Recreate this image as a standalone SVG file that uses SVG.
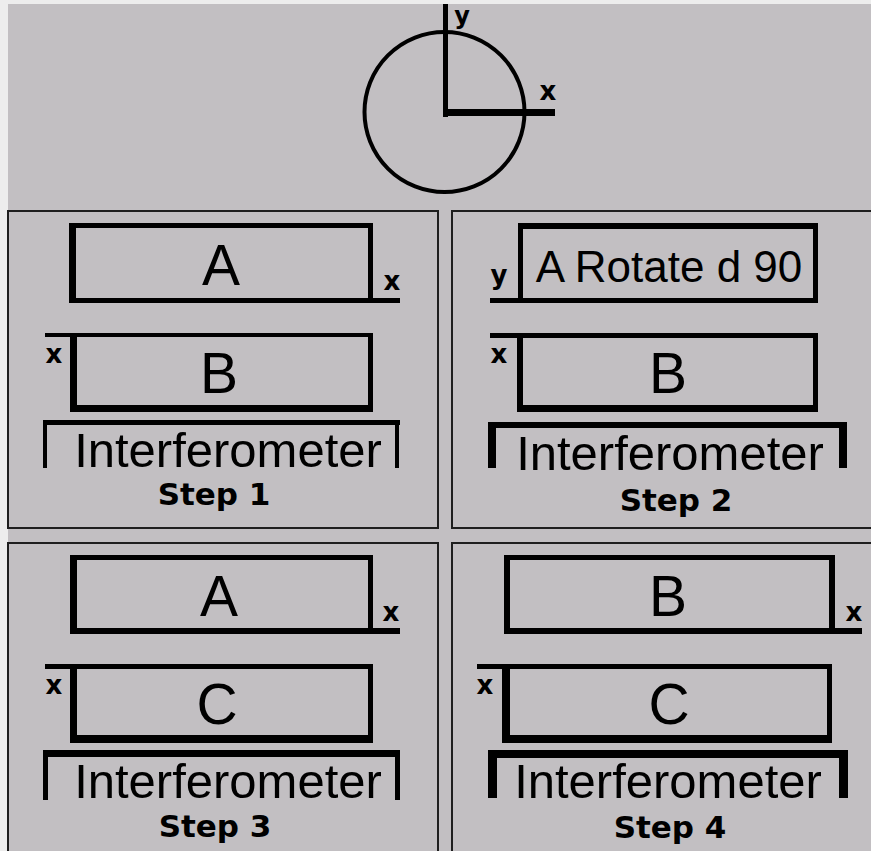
<svg xmlns="http://www.w3.org/2000/svg" width="871" height="851" viewBox="0 0 871 851">
<style>
.bg{fill:#c2bfc2}
.panel{fill:none;stroke:#1e1e1e;stroke-width:2}
.k{fill:#000}
.big{font-family:"Liberation Sans",Arial,sans-serif;font-size:57px;fill:#000;text-anchor:middle}
.rot{font-family:"Liberation Sans",Arial,sans-serif;font-size:44px;fill:#000;text-anchor:middle}
.inf{font-family:"Liberation Sans",Arial,sans-serif;font-size:49px;fill:#000;text-anchor:middle}
.step{font-family:"DejaVu Sans",sans-serif;font-weight:bold;font-size:31px;fill:#000;text-anchor:middle}
.ax{font-family:"DejaVu Sans",sans-serif;font-weight:bold;font-size:26px;fill:#000;text-anchor:middle}
</style>
<rect x="0" y="0" width="871" height="851" fill="#ededed"/>
<rect class="bg" x="8" y="4" width="863" height="847"/>

<g id="axes">
  <circle cx="444.5" cy="112" r="80" fill="none" stroke="#000" stroke-width="4"/>
  <rect class="k" x="443" y="4" width="5" height="113"/>
  <rect class="k" x="443" y="109" width="112" height="7"/>
  <text class="ax" x="462" y="24" style="font-size:24px">y</text>
  <text class="ax" x="548" y="100">x</text>
</g>

<g id="step1">
  <rect class="panel" x="8" y="211" width="430" height="317"/>
  <g id="step1-A">
    <rect class="k" x="69" y="223" width="304" height="5"/>
    <rect class="k" x="69" y="223" width="7" height="80"/>
    <rect class="k" x="368" y="223" width="5" height="80"/>
    <rect class="k" x="69" y="298" width="331" height="5"/>
    <text class="big" x="221" y="285">A</text>
    <text class="ax" x="392" y="290">x</text>
  </g>
  <g id="step1-B">
    <rect class="k" x="45" y="333" width="328" height="4"/>
    <rect class="k" x="70" y="333" width="7" height="79"/>
    <rect class="k" x="368" y="333" width="5" height="79"/>
    <rect class="k" x="70" y="405" width="303" height="7"/>
    <text class="big" x="219" y="393">B</text>
    <text class="ax" x="54" y="363">x</text>
  </g>
  <g id="step1-interferometer">
    <rect class="k" x="43" y="420" width="357" height="5"/>
    <rect class="k" x="43" y="420" width="4" height="48"/>
    <rect class="k" x="395" y="420" width="4" height="48"/>
    <text class="inf" x="228" y="467">Interferometer</text>
  </g>
  <text class="step" x="214" y="505">Step 1</text>
</g>

<g id="step2">
  <rect class="panel" x="452" y="211" width="430" height="317"/>
  <g id="step2-A">
    <rect class="k" x="518" y="223" width="300" height="6"/>
    <rect class="k" x="518" y="223" width="5" height="80"/>
    <rect class="k" x="813" y="223" width="5" height="80"/>
    <rect class="k" x="490" y="298" width="328" height="5"/>
    <text class="rot" x="669" y="282">A Rotate d 90</text>
    <text class="ax" x="499" y="284">y</text>
  </g>
  <g id="step2-B">
    <rect class="k" x="490" y="333" width="328" height="5"/>
    <rect class="k" x="517" y="333" width="6" height="79"/>
    <rect class="k" x="813" y="333" width="5" height="79"/>
    <rect class="k" x="517" y="405" width="301" height="7"/>
    <text class="big" x="668" y="393">B</text>
    <text class="ax" x="499" y="363">x</text>
  </g>
  <g id="step2-interferometer">
    <rect class="k" x="488" y="422" width="359" height="6"/>
    <rect class="k" x="488" y="422" width="8" height="46"/>
    <rect class="k" x="839" y="422" width="8" height="46"/>
    <text class="inf" x="670" y="470">Interferometer</text>
  </g>
  <text class="step" x="676" y="511">Step 2</text>
</g>

<g id="step3">
  <rect class="panel" x="8" y="543" width="430" height="320"/>
  <g id="step3-A">
    <rect class="k" x="70" y="555" width="303" height="5"/>
    <rect class="k" x="70" y="555" width="7" height="79"/>
    <rect class="k" x="368" y="555" width="5" height="79"/>
    <rect class="k" x="70" y="628" width="330" height="6"/>
    <text class="big" x="219" y="616">A</text>
    <text class="ax" x="391" y="621">x</text>
  </g>
  <g id="step3-C">
    <rect class="k" x="45" y="664" width="328" height="5"/>
    <rect class="k" x="70" y="664" width="7" height="79"/>
    <rect class="k" x="368" y="664" width="5" height="79"/>
    <rect class="k" x="70" y="735" width="303" height="8"/>
    <text class="big" x="217" y="724">C</text>
    <text class="ax" x="54" y="694">x</text>
  </g>
  <g id="step3-interferometer">
    <rect class="k" x="43" y="750" width="357" height="7"/>
    <rect class="k" x="43" y="750" width="5" height="50"/>
    <rect class="k" x="395" y="750" width="5" height="50"/>
    <text class="inf" x="228" y="798">Interferometer</text>
  </g>
  <text class="step" x="215" y="837">Step 3</text>
</g>

<g id="step4">
  <rect class="panel" x="452" y="543" width="430" height="320"/>
  <g id="step4-B">
    <rect class="k" x="504" y="555" width="331" height="5"/>
    <rect class="k" x="504" y="555" width="6" height="79"/>
    <rect class="k" x="829" y="555" width="6" height="79"/>
    <rect class="k" x="504" y="628" width="358" height="6"/>
    <text class="big" x="668" y="616">B</text>
    <text class="ax" x="854" y="621">x</text>
  </g>
  <g id="step4-C">
    <rect class="k" x="477" y="664" width="355" height="5"/>
    <rect class="k" x="502" y="664" width="8" height="79"/>
    <rect class="k" x="827" y="664" width="5" height="79"/>
    <rect class="k" x="502" y="735" width="330" height="8"/>
    <text class="big" x="669" y="724">C</text>
    <text class="ax" x="485" y="694">x</text>
  </g>
  <g id="step4-interferometer">
    <rect class="k" x="488" y="750" width="360" height="8"/>
    <rect class="k" x="488" y="750" width="9" height="48"/>
    <rect class="k" x="839" y="750" width="9" height="48"/>
    <text class="inf" x="668" y="798">Interferometer</text>
  </g>
  <text class="step" x="670" y="838">Step 4</text>
</g>

<g id="connectors"/>
</svg>
